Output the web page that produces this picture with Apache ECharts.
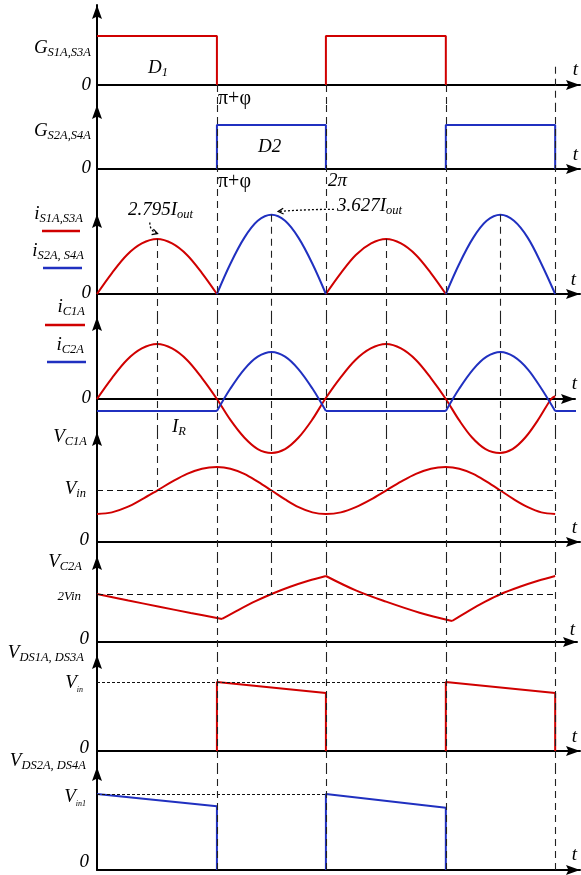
<!DOCTYPE html>
<html>
<head>
<meta charset="utf-8">
<script src="https://cdn.jsdelivr.net/npm/echarts@6/dist/echarts.min.js"></script>
<style>
html, body { margin: 0; padding: 0; background: #fff; }
#main { width: 581px; height: 875px; }
</style>
</head>
<body>
<div id="main"></div>
<script>
// time in rad: switching at 0, pi+phi, 2pi, 3pi+phi, 4pi
const tEdges = [0, 3.29, 6.28, 9.57, 12.57]

// gate signals (1 = on)
const gateS1S3 = [[0, 1], [3.29, 1], [3.29, 0], [3.29, '-'], [6.28, 0], [6.28, 1], [9.57, 1], [9.57, 0]]
const gateS2S4 = [[3.29, 0], [3.29, 1], [6.28, 1], [6.28, 0], [6.28, '-'], [9.57, 0], [9.57, 1], [12.57, 1], [12.57, 0]]

// switch currents, relative to the 2.795Iout peak
const iS1S3 = [
  [0, 0], [0.41, 0.38], [0.82, 0.71], [1.23, 0.92], [1.65, 1.0], [2.06, 0.92], [2.47, 0.71], [2.88, 0.38], [3.29, 0],
  [3.29, '-'],
  [6.28, 0], [6.69, 0.38], [7.10, 0.71], [7.52, 0.92], [7.93, 1.0], [8.34, 0.92], [8.75, 0.71], [9.16, 0.38], [9.57, 0]
]
const iS2S4 = [
  [3.29, 0], [3.66, 0.55], [4.04, 1.02], [4.41, 1.33], [4.79, 1.44], [5.16, 1.33], [5.53, 1.02], [5.91, 0.55], [6.28, 0],
  [6.28, '-'],
  [9.57, 0], [9.94, 0.55], [10.32, 1.02], [10.69, 1.33], [11.07, 1.44], [11.44, 1.33], [11.82, 1.02], [12.19, 0.55], [12.57, 0]
]

// capacitor currents
const iC1 = [
  [0, 0], [0.41, 0.38], [0.82, 0.71], [1.23, 0.92], [1.65, 1.0], [2.06, 0.92], [2.47, 0.71], [2.88, 0.38], [3.29, 0],
  [3.66, -0.38], [4.04, -0.70], [4.41, -0.91], [4.79, -0.98], [5.16, -0.91], [5.53, -0.70], [5.90, -0.38], [6.26, 0],
  [6.67, 0.38], [7.09, 0.71], [7.51, 0.92], [7.93, 1.0], [8.34, 0.92], [8.75, 0.71], [9.16, 0.38], [9.57, 0],
  [9.93, -0.38], [10.29, -0.70], [10.66, -0.91], [11.05, -0.98], [11.40, -0.91], [11.75, -0.70], [12.10, -0.38], [12.46, 0],
  [12.57, 0.05]
]
const iC2Flat = [[0, -0.22], [3.29, -0.22], [3.29, '-'], [6.28, -0.22], [9.57, -0.22], [9.57, '-'], [12.57, -0.22], [13.15, -0.22]]
const iC2Arch = [
  [3.29, -0.22], [3.66, 0.19], [4.04, 0.54], [4.41, 0.77], [4.79, 0.855], [5.16, 0.77], [5.53, 0.54], [5.91, 0.19], [6.28, -0.22],
  [6.28, '-'],
  [9.57, -0.22], [9.94, 0.19], [10.32, 0.54], [10.69, 0.77], [11.07, 0.855], [11.44, 0.77], [11.82, 0.54], [12.19, 0.19], [12.57, -0.22]
]

// capacitor voltages in Vin
const vC1 = [
  [0, 0.54], [0.41, 0.57], [0.82, 0.67], [1.23, 0.82], [1.65, 0.99], [2.06, 1.16], [2.47, 1.31], [2.88, 1.41], [3.29, 1.44],
  [3.66, 1.41], [4.04, 1.31], [4.41, 1.16], [4.79, 0.99], [5.16, 0.82], [5.53, 0.67], [5.91, 0.57], [6.28, 0.54],
  [6.69, 0.57], [7.10, 0.67], [7.52, 0.82], [7.93, 0.99], [8.34, 1.16], [8.75, 1.31], [9.16, 1.41], [9.57, 1.44],
  [9.94, 1.41], [10.32, 1.31], [10.69, 1.16], [11.07, 0.99], [11.44, 0.82], [11.82, 0.67], [12.19, 0.57], [12.57, 0.54]
]
const vC2 = [
  [0, 2.0], [0.86, 1.73], [1.71, 1.47], [2.57, 1.21], [3.43, 0.96],
  [3.43, '-'],
  [3.43, 0.96], [3.9, 1.35], [4.35, 1.7], [4.79, 2.0], [5.3, 2.3], [5.8, 2.55], [6.28, 2.75],
  [6.28, '-'],
  [6.28, 2.75], [7.1, 2.15], [7.93, 1.68], [8.85, 1.22], [9.74, 0.875],
  [9.74, '-'],
  [9.74, 0.875], [10.2, 1.3], [10.65, 1.68], [11.08, 2.0], [11.6, 2.3], [12.1, 2.55], [12.57, 2.75]
]

// switch voltages in Vin
const vDS1 = [[3.29, 0], [3.29, 1], [6.28, 0.84], [6.28, 0], [6.28, '-'], [9.57, 0], [9.57, 1], [12.57, 0.84], [12.57, 0]]
const vDS2 = [[0, 1], [3.29, 0.84], [3.29, 0], [3.29, '-'], [6.28, 0], [6.28, 1], [9.57, 0.82], [9.57, 0]]

// vertical guides: time, [panel, level] start and end
const guides = [
  { t: 3.29, from: [0, 0], to: [7, 0] },
  { t: 6.28, from: [0, 0], to: [7, 0] },
  { t: 9.57, from: [0, 0], to: [7, 0] },
  { t: 12.57, from: [0, 0.37], to: [7, 0] },
  { t: 1.65, from: [2, 1.0], to: [4, 1.0] },
  { t: 4.79, from: [2, 1.44], to: [5, 2.0] },
  { t: 7.93, from: [2, 1.0], to: [4, 1.0] },
  { t: 11.07, from: [2, 1.44], to: [5, 2.0] }
]
// horizontal reference levels: panel, level, end time, style
const levels = [
  { panel: 4, v: 1, t1: 12.57, dash: [6, 4] },
  { panel: 5, v: 2, t1: 12.57, dash: [6, 4] },
  { panel: 6, v: 1, t1: 9.57, dash: [3, 2] },
  { panel: 7, v: 1, t1: 6.28, dash: [3, 2] }
]
// peak annotations (panel 2 units)
const notes = [
  { from: [1.45, 1.3], to: [1.66, 1.1], bend: 5 },
  { from: [6.5, 1.54], to: [4.97, 1.5], bend: 1 }
]

const RED = '#d00000'
const BLUE = '#2030c0'
const pxPerRad = 36.45
const ARROW = 'path://M5,0L10,14L5,11.5L0,14Z'

// panel layout in px: arrow tip, zero line, bottom, px per unit, axis end
const panels = [
  { top: 5, base: 85, bottom: 105, unit: 49, end: 580 },
  { top: 105, base: 169, bottom: 214, unit: 44, end: 580 },
  { top: 214, base: 294, bottom: 317, unit: 55, end: 580 },
  { top: 317, base: 399, bottom: 432, unit: 55, end: 575 },
  { top: 432, base: 542, bottom: 556, unit: 52, end: 580 },
  { top: 556, base: 642, bottom: 655, unit: 24, end: 577 },
  { top: 655, base: 751, bottom: 767, unit: 69, end: 580 },
  { top: 767, base: 870, bottom: 870, unit: 76, end: 580 }
]

const chart = echarts.init(document.getElementById('main'))
const grids = []
const xAxes = []
const yAxes = []
const series = []
const axisLine = (onZero) => ({
  show: true,
  onZero: onZero,
  symbol: ['none', ARROW],
  symbolSize: [10, 14],
  symbolOffset: [0, -7],
  lineStyle: { color: '#000', width: 2 }
})

panels.forEach((p, i) => {
  p.yMax = (p.base - p.top) / p.unit
  p.yMin = -(p.bottom - p.base) / p.unit
  grids.push({ left: 97, top: p.top, width: p.end - 97, height: p.bottom - p.top })
  xAxes.push({
    gridIndex: i, type: 'value', min: 0, max: (p.end - 97) / pxPerRad,
    axisLine: axisLine(true), axisTick: { show: false }, axisLabel: { show: false }, splitLine: { show: false }
  })
  yAxes.push({
    gridIndex: i, type: 'value', min: p.yMin, max: p.yMax,
    axisLine: axisLine(false), axisTick: { show: false }, axisLabel: { show: false }, splitLine: { show: false }
  })
})

// guide segments per panel
const guideData = panels.map(() => [])
guides.forEach(g => {
  for (let i = g.from[0]; i <= g.to[0]; i++) {
    const p = panels[i]
    const eps = 1e-9
    let a = i === g.from[0] ? Math.min(g.from[1], p.yMax - eps) : p.yMax - eps
    let b = i === g.to[0] ? g.to[1] : p.yMin + eps
    guideData[i].push([{ coord: [g.t, a] }, { coord: [g.t, b] }])
  }
})

panels.forEach((p, i) => {
  const lv = levels.filter(l => l.panel === i)
  series.push({
    type: 'line', xAxisIndex: i, yAxisIndex: i, data: [], z: 1, silent: true,
    markLine: {
      silent: true, symbol: 'none', animation: false, label: { show: false },
      lineStyle: { color: '#222', width: 1.1, type: [7, 5] },
      data: guideData[i]
    }
  })
  lv.forEach(l => {
    series.push({
      type: 'line', xAxisIndex: i, yAxisIndex: i, data: [], z: 1, silent: true,
      markLine: {
        silent: true, symbol: 'none', animation: false, label: { show: false },
        lineStyle: { color: '#111', width: 1.1, type: l.dash },
        data: [[{ coord: [0, l.v] }, { coord: [l.t1, l.v] }]]
      }
    })
  })
})

const wave = (idx, data, color, smooth) => ({
  type: 'line', xAxisIndex: idx, yAxisIndex: idx, data: data, smooth: smooth ? 0.35 : false,
  showSymbol: false, symbol: 'none', clip: false, z: 3, silent: true,
  lineStyle: { color: color, width: 2 }
})
series.push(
  wave(0, gateS1S3, RED),
  wave(1, gateS2S4, BLUE),
  wave(2, iS1S3, RED, true),
  wave(2, iS2S4, BLUE, true),
  wave(3, iC1, RED, true),
  wave(3, iC2Flat, BLUE),
  wave(3, iC2Arch, BLUE, true),
  wave(4, vC1, RED, true),
  wave(5, vC2, RED, true),
  wave(6, vDS1, RED),
  wave(7, vDS2, BLUE)
)

const FONT = 'Liberation Serif'
const rich = {
  m: { fontFamily: FONT, fontStyle: 'italic', fontSize: 19, lineHeight: 22, color: '#000' },
  r: { fontFamily: FONT, fontSize: 20, lineHeight: 22, color: '#000' },
  s: { fontFamily: FONT, fontStyle: 'italic', fontSize: 12.5, lineHeight: 13, verticalAlign: 'bottom', color: '#000' },
  ss: { fontFamily: FONT, fontStyle: 'italic', fontSize: 8, lineHeight: 9, verticalAlign: 'bottom', color: '#000' },
  sm: { fontFamily: FONT, fontStyle: 'italic', fontSize: 13, lineHeight: 22, color: '#000' }
}
const txt = (x, y, text, align) => ({
  type: 'text', x: x, y: y, silent: true,
  style: { text: text, rich: rich, align: align || 'right', verticalAlign: 'middle', font: 'italic 19px ' + FONT }
})
const swatch = (x1, x2, y, color) => ({
  type: 'line', silent: true, shape: { x1: x1, y1: y, x2: x2, y2: y },
  style: { stroke: color, lineWidth: 2.5 }
})

const graphics = [
  txt(91, 48, '{m|G}{s|S1A,S3A}'),
  txt(91, 85, '{m|0}'),
  txt(91, 131, '{m|G}{s|S2A,S4A}'),
  txt(91, 168, '{m|0}'),
  txt(83, 214, '{m|i}{s|S1A,S3A}'),
  swatch(42, 80, 231, RED),
  txt(84, 251, '{m|i}{s|S2A, S4A}'),
  swatch(43, 82, 268, BLUE),
  txt(91, 293, '{m|0}'),
  txt(85, 307, '{m|i}{s|C1A}'),
  swatch(45, 85, 325, RED),
  txt(84, 345, '{m|i}{s|C2A}'),
  swatch(47, 86, 362, BLUE),
  txt(91, 398, '{m|0}'),
  txt(87, 437, '{m|V}{s|C1A}'),
  txt(86, 489, '{m|V}{s|in}'),
  txt(89, 540, '{m|0}'),
  txt(82, 562, '{m|V}{s|C2A}'),
  txt(81, 597, '{sm|2Vin}'),
  txt(89, 639, '{m|0}'),
  txt(84, 653, '{m|V}{s|DS1A, DS3A}'),
  txt(83, 683, '{m|V}{ss|in}'),
  txt(89, 748, '{m|0}'),
  txt(86, 761, '{m|V}{s|DS2A, DS4A}'),
  txt(86, 797, '{m|V}{ss|in1}'),
  txt(89, 862, '{m|0}'),
  txt(148, 68, '{m|D}{s|1}', 'left'),
  txt(258, 147, '{m|D2}', 'left'),
  txt(218, 99, '{r|π+φ}', 'left'),
  txt(218, 182, '{r|π+φ}', 'left'),
  txt(328, 181, '{m|2π}', 'left'),
  txt(128, 210, '{m|2.795I}{s|out}', 'left'),
  txt(337, 206, '{m|3.627I}{s|out}', 'left'),
  txt(172, 427, '{m|I}{s|R}', 'left'),
  txt(578, 70, '{m|t}'),
  txt(578, 155, '{m|t}'),
  txt(576, 280, '{m|t}'),
  txt(577, 384, '{m|t}'),
  txt(577, 528, '{m|t}'),
  txt(575, 630, '{m|t}'),
  txt(577, 737, '{m|t}'),
  txt(577, 855, '{m|t}')
]

chart.setOption({
  animation: false,
  backgroundColor: '#fff',
  grid: grids,
  xAxis: xAxes,
  yAxis: yAxes,
  series: series,
  graphic: graphics
})

// dotted annotation arrows placed through panel 2's scales
const noteGraphics = []
notes.forEach(n => {
  const a = chart.convertToPixel({ gridIndex: 2 }, n.from)
  const b = chart.convertToPixel({ gridIndex: 2 }, n.to)
  const mx = (a[0] + b[0]) / 2
  const my = (a[1] + b[1]) / 2
  const dx = b[0] - a[0]
  const dy = b[1] - a[1]
  const len = Math.sqrt(dx * dx + dy * dy)
  const cx = mx - dy / len * n.bend
  const cy = my + dx / len * n.bend
  noteGraphics.push({
    type: 'bezierCurve', silent: true,
    shape: { x1: a[0], y1: a[1], x2: b[0], y2: b[1], cpx1: cx, cpy1: cy },
    style: { stroke: '#000', lineWidth: 1.3, lineDash: [2, 2], fill: null }
  })
  const ang = Math.atan2(b[1] - cy, b[0] - cx)
  const h = 6
  noteGraphics.push({
    type: 'polyline', silent: true,
    shape: { points: [
      [b[0] - h * Math.cos(ang - 0.5), b[1] - h * Math.sin(ang - 0.5)],
      [b[0], b[1]],
      [b[0] - h * Math.cos(ang + 0.5), b[1] - h * Math.sin(ang + 0.5)]
    ] },
    style: { stroke: '#000', lineWidth: 1.3, fill: null }
  })
})
chart.setOption({ graphic: graphics.concat(noteGraphics) })
</script>
</body>
</html>
